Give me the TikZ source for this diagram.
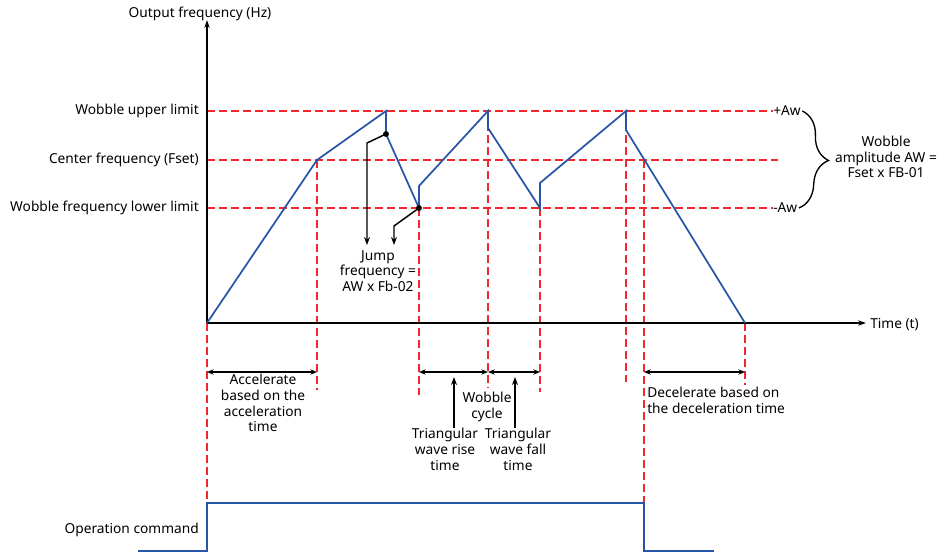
\documentclass[tikz,border=0pt]{standalone}
\usepackage{fontspec}
\setmainfont{Noto Sans}
\usetikzlibrary{arrows.meta,decorations.pathreplacing}
\definecolor{wobred}{RGB}{240,40,45}
\definecolor{wobblue}{RGB}{40,85,165}

\begin{document}
\begin{tikzpicture}[
  x=0.75pt, y=-0.75pt,
  font=\fontsize{10.3}{11.8}\selectfont,
  axis/.style    = {draw=black, line width=1pt, -{Stealth[length=6pt,width=4pt]}},
  guide/.style   = {draw=wobred, line width=1.1pt, dash pattern=on 6pt off 3pt},
  curve/.style   = {draw=wobblue, line width=1.3pt},
  span/.style    = {draw=black, line width=1pt, {Stealth[length=5pt,width=4pt]}-{Stealth[length=5pt,width=4pt]}},
  pointer/.style = {draw=black, line width=1.1pt, -{Stealth[length=6pt,width=4.5pt]}},
  lvl/.style     = {anchor=east, inner sep=0pt},
  lbl/.style     = {align=center, inner sep=0pt},
]
\useasboundingbox (0,0) rectangle (943,553);

\def\xo{207}    % x of the origin
\def\yo{323}    % y of the time axis
\def\yup{111}   % wobble upper limit
\def\ymid{160}  % center frequency
\def\ylo{208}   % wobble lower limit
\def\ydim{372}  % y of the time spans

% ---- points of the output curve --------------------------------------------
\coordinate (o)  at (\xo,\yo);
\coordinate (a1) at (317,\ymid);
\coordinate (p1) at (386,\yup);
\coordinate (j1) at (386,134);
\coordinate (v1) at (419,\ylo);
\coordinate (r1) at (419,186);
\coordinate (p2) at (488,\yup);
\coordinate (j2) at (488,128);
\coordinate (v2) at (540,\ylo);
\coordinate (r2) at (540,183);
\coordinate (p3) at (626,\yup);
\coordinate (j3) at (626,130);
\coordinate (d1) at (644,\ymid);
\coordinate (e)  at (745,\yo);

% ---- level labels ----------------------------------------------------------
\node[lvl] (lup)  at (199,\yup)  {Wobble upper limit};
\node[lvl] (lmid) at (199,\ymid) {Center frequency (Fset)};
\node[lvl] (llo)  at (199,\ylo)  {Wobble frequency lower limit};
\node[anchor=west, inner sep=0pt] (pa) at (773,\yup) {+Aw};
\node[anchor=west, inner sep=0pt] (ma) at (773,\ylo) {-Aw};

% ---- red guide lines -------------------------------------------------------
\draw[guide] (\xo,\yup) -- (pa.west);
\draw[guide] (\xo,\ymid) -- (778,\ymid);
\draw[guide] (\xo,\ylo) -- (ma.west);
\draw[guide] (o)  -- (\xo,503);
\draw[guide] (a1) -- (317,390);
\draw[guide] (v1) -- (419,395);
\draw[guide] (p2) -- (488,388);
\draw[guide] (v2) -- (540,392);
\draw[guide] (p3) -- (626,382);
\draw[guide] (d1) -- (644,503);
\draw[guide] (e)  -- (745,385);

% ---- axes ------------------------------------------------------------------
\draw[axis] (o) -- (\xo,20);
\draw[axis] (o) -- (866,\yo);
\node (ylab) at (200,14) {Output frequency (Hz)};
\node[anchor=west, inner sep=0pt] (xlab) at (870,325) {Time (t)};

% ---- output frequency ------------------------------------------------------
\draw[curve] (o) -- (a1) -- (p1) -- (j1) -- (v1) -- (r1) -- (p2) -- (j2)
             -- (v2) -- (r2) -- (p3) -- (j3) -- (e);

% ---- jump frequency --------------------------------------------------------
\fill (j1) circle (2.2pt);
\fill (v1) circle (2.2pt);
\node[lbl, anchor=north] (jump) at (378,250) {Jump\\frequency =\\AW x Fb-02};
\draw[pointer] (j1) -- (367,143) -- (367,245);
\draw[pointer] (v1) -- (394,226) -- (394,245);

% ---- wobble amplitude ------------------------------------------------------
\draw[line width=1pt, decorate, decoration={brace, amplitude=21pt}]
  ([xshift=1pt]pa.east) -- ([xshift=1pt]ma.east);
\node[lbl] (amp) at (886,157) {Wobble\\amplitude AW =\\Fset x FB-01};

% ---- time spans ------------------------------------------------------------
\draw[span] (o |- 0,\ydim) -- (a1 |- 0,\ydim);
\node[lbl, anchor=north] (acc) at (263,374) {Accelerate\\based on the\\acceleration\\time};

\draw[span] (v1 |- 0,\ydim) -- (p2 |- 0,\ydim);
\draw[span] (p2 |- 0,\ydim) -- (v2 |- 0,\ydim);
\node[lbl] (cyc) at (487,407) {Wobble\\cycle};
\node[lbl, anchor=north] (rise) at (445,428) {Triangular\\wave rise\\time};
\node[lbl, anchor=north] (fall) at (518,428) {Triangular\\wave fall\\time};
\draw[pointer] (rise.north -| 454,0) -- (454,377);
\draw[pointer] (fall.north -| 515,0) -- (515,377);

\draw[span] (d1 |- 0,\ydim) -- (e |- 0,\ydim);
\node[lbl, align=left, anchor=north west] (dec) at (647,387) {Decelerate based on\\the deceleration time};

% ---- operation command -----------------------------------------------------
\node[lvl] (cmd) at (199,530) {Operation command};
\draw[curve] (138,551) -- (\xo,551) -- (\xo,503) -- (644,503) -- (644,551) -- (714,551);

\end{tikzpicture}
\end{document}
